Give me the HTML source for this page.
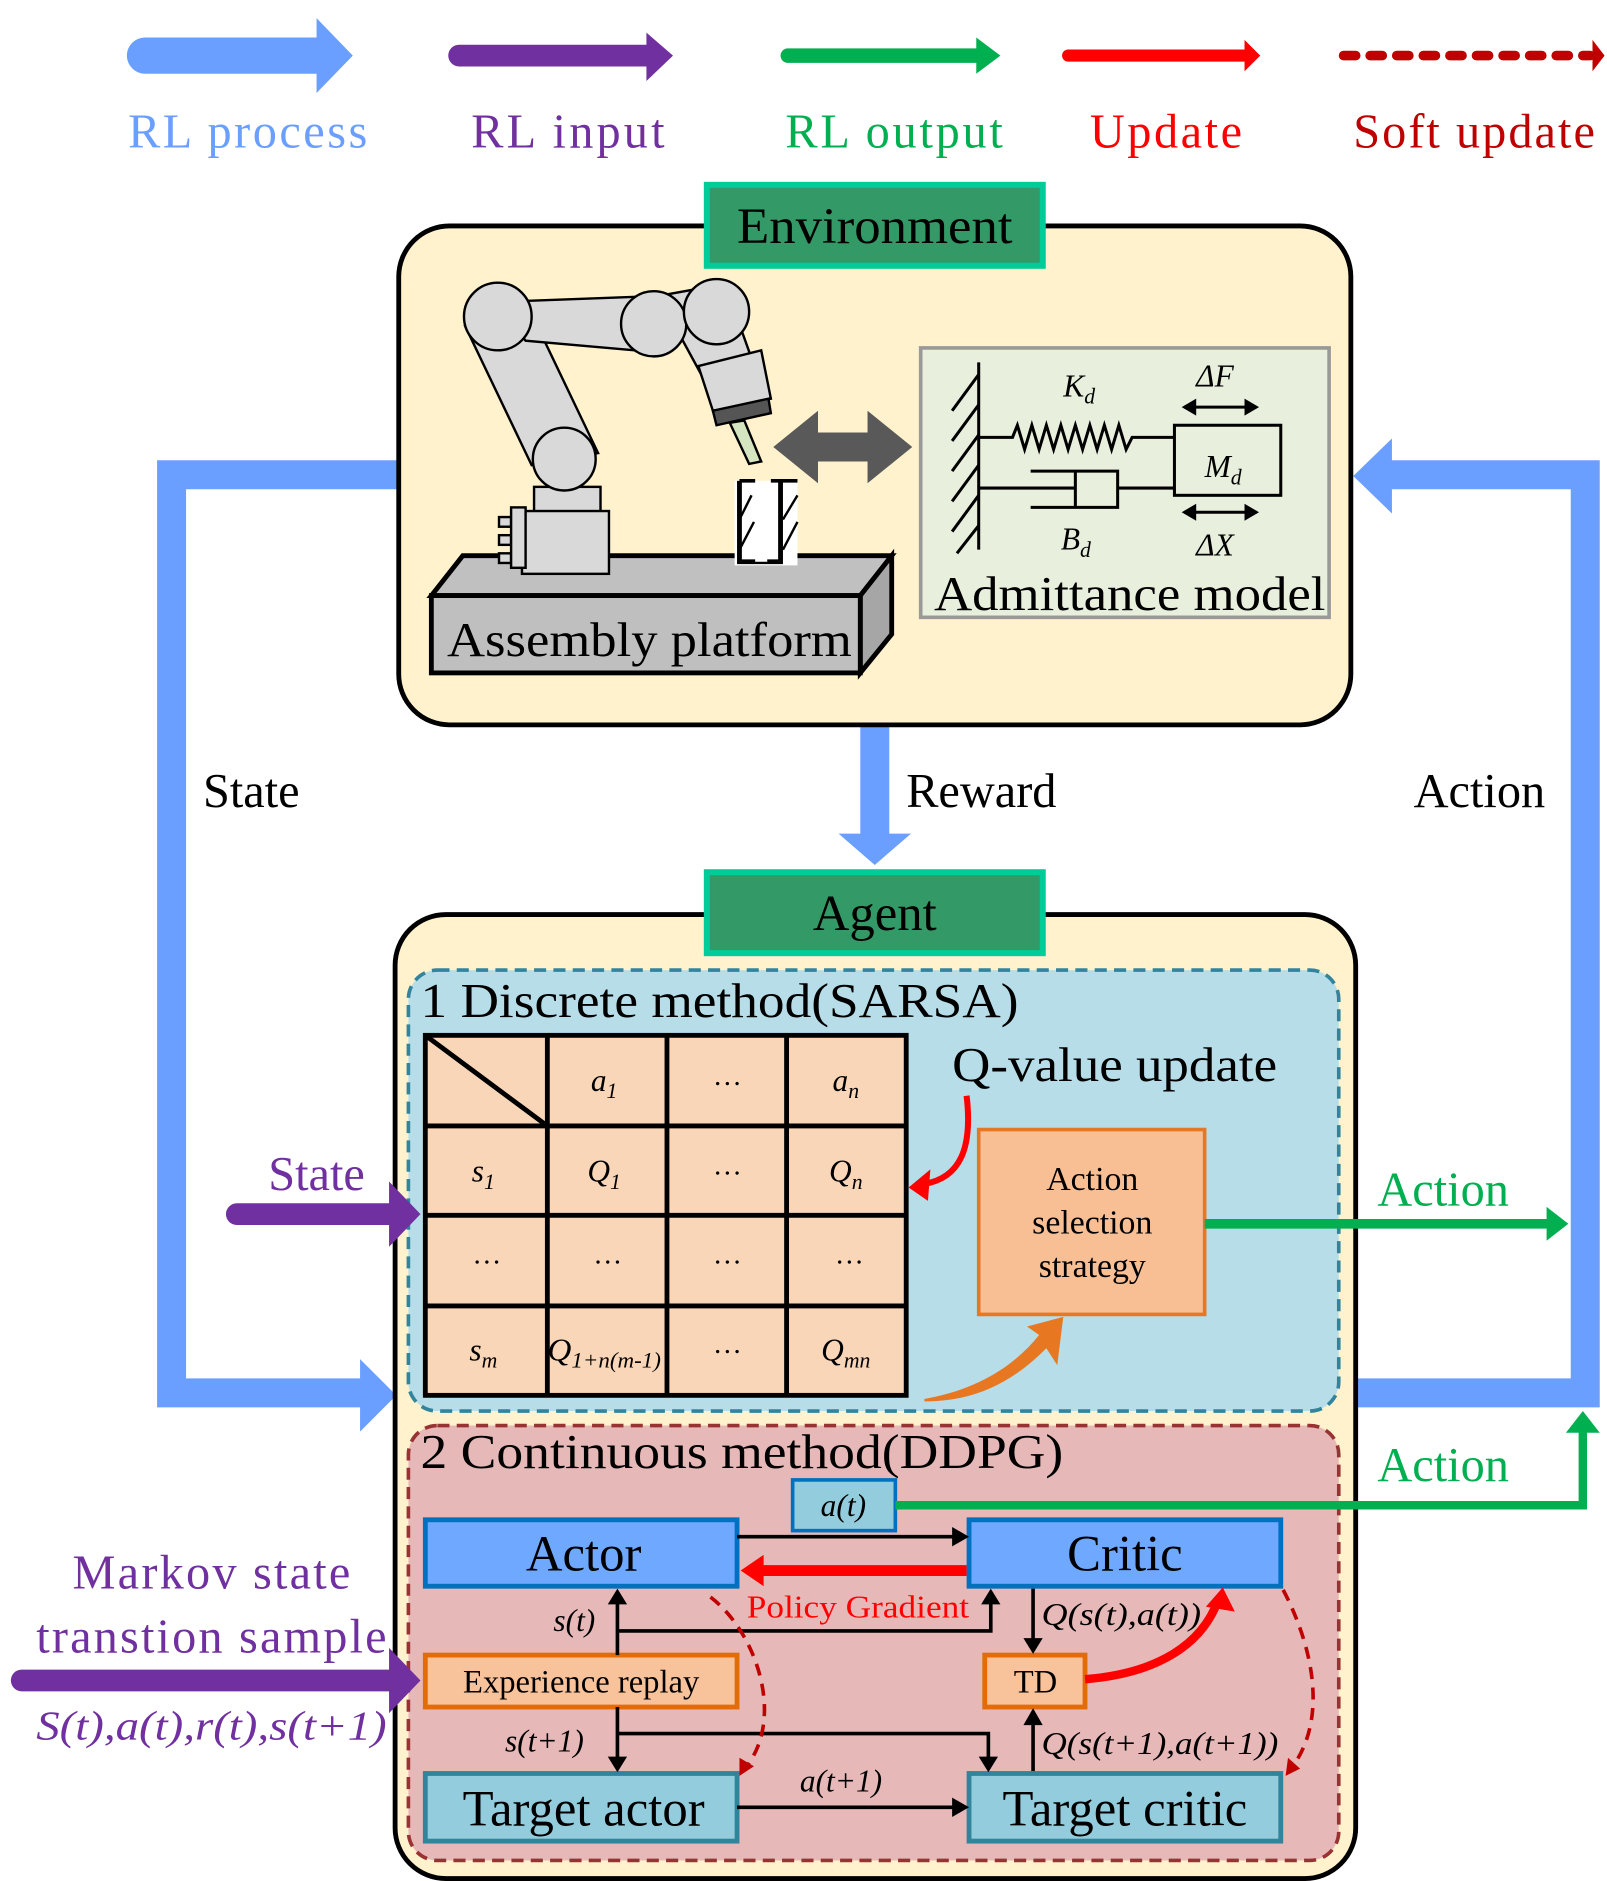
<!DOCTYPE html>
<html><head><meta charset="utf-8"><style>
html,body{margin:0;padding:0;background:#fff;}
svg{display:block;}
text{font-family:"Liberation Serif",serif;}
.i{font-style:italic;}
</style></head><body>
<svg width="1607" height="1881" viewBox="0 0 1330 1557" preserveAspectRatio="none" xmlns="http://www.w3.org/2000/svg">
<!-- Legend -->
<path d="M120,31 L262,31 L262,15 L292,46 L262,77 L262,61 L120,61 A15,15 0 0 1 120,31Z" fill="#6b9fff"/>
<path d="M380,37 L535,37 L535,27 L557,46 L535,67 L535,55 L380,55 A9,9 0 0 1 380,37Z" fill="#7030a0"/>
<path d="M652,40 L808,40 L808,31 L828,46 L808,61 L808,52 L652,52 A6,6 0 0 1 652,40Z" fill="#00b050"/>
<path d="M884,41 L1030,41 L1030,33 L1043,46 L1030,59 L1030,51 L884,51 A5,5 0 0 1 884,41Z" fill="#ff0000"/>
<line x1="1112" y1="46" x2="1316" y2="46" stroke="#c00000" stroke-width="8" stroke-dasharray="10,12" stroke-linecap="round"/>
<path d="M1318,33 L1328,46 L1318,59Z" fill="#c00000"/>
<g font-size="40" text-anchor="middle" lengthAdjust="spacingAndGlyphs">
<text x="205" y="122" fill="#6b9fff" textLength="198">RL process</text>
<text x="470" y="122" fill="#7030a0" textLength="160">RL input</text>
<text x="740" y="122" fill="#00b050" textLength="180">RL output</text>
<text x="965" y="122" fill="#ff0000" textLength="126">Update</text>
<text x="1220" y="122" fill="#c00000" textLength="200">Soft update</text>
</g>

<!-- Blue loop -->
<path d="M330,393 L142,393 L142,1153 L300,1153" fill="none" stroke="#6b9fff" stroke-width="24"/>
<path d="M298,1125 L328,1155 L298,1185Z" fill="#6b9fff"/>
<path d="M1120,1153 L1312,1153 L1312,393 L1150,393" fill="none" stroke="#6b9fff" stroke-width="24"/>
<path d="M1152,363 L1120,394 L1152,425Z" fill="#6b9fff"/>
<rect x="712" y="598" width="24" height="94" fill="#6b9fff"/>
<path d="M694,690 L754,690 L724,716Z" fill="#6b9fff"/>
<g font-size="40" fill="#000">
<text x="168" y="668">State</text>
<text x="750" y="668">Reward</text>
<text x="1170" y="668">Action</text>
</g>

<!-- Environment -->
<rect x="330" y="187" width="788" height="413" rx="42" fill="#fff2cc" stroke="#000" stroke-width="4"/>
<rect x="585" y="153" width="278" height="67" fill="#339966" stroke="#00cc99" stroke-width="5"/>
<text x="724" y="201" font-size="42" text-anchor="middle" textLength="228" lengthAdjust="spacingAndGlyphs">Environment</text>

<!-- Robot -->
<g stroke="#000" stroke-width="2" fill="#d9d9d9">
<path d="M357,493 L383,460 L738,460 L712,493Z" fill="#c0c0c0" stroke-width="4"/>
<path d="M712,493 L738,460 L738,525 L712,557Z" fill="#a6a6a6" stroke-width="4"/>
<rect x="357" y="493" width="355" height="64" fill="#bfbfbf" stroke-width="4"/>
<rect x="442" y="403" width="55" height="22"/>
<rect x="432" y="423" width="72" height="52"/>
<rect x="413" y="428" width="10" height="8"/><rect x="413" y="443" width="10" height="8"/><rect x="413" y="458" width="10" height="8"/>
<rect x="423" y="420" width="12" height="50"/>
<path d="M385,270 L440,260 L495,375 L440,385Z"/>
<circle cx="467" cy="380" r="26"/>
<path d="M410,250 L545,245 L548,292 L435,282Z"/>
<ellipse cx="412" cy="262" rx="28" ry="28"/>
<path d="M545,245 L600,235 L625,305 L582,313Z"/>
<ellipse cx="541" cy="268" rx="27" ry="27"/>
<ellipse cx="593" cy="258" rx="27" ry="27"/>
<path d="M578,303 L630,290 L638,330 L590,340Z"/>
<path d="M590,340 L636,330 L638,342 L593,352Z" fill="#555"/>
<path d="M604,350 L616,348 L630,382 L620,384Z" fill="#d5e5c0"/>
<rect x="608" y="398" width="52" height="70" fill="#fff" stroke="none"/>
<path d="M612,398 L612,465 L646,465 L646,398" fill="none" stroke="#000" stroke-width="4"/>
<path d="M630,398 L630,465" stroke="#fff" stroke-width="10"/>
<path d="M612,398 L625,398 M638,398 L660,398" stroke="#000" stroke-width="3"/>
<path d="M612,430 L622,410 M612,455 L624,432 M648,430 L660,410 M648,455 L660,432" stroke="#000" stroke-width="2"/>
</g>
<text x="370" y="543" font-size="40" textLength="335" lengthAdjust="spacingAndGlyphs">Assembly platform</text>
<path d="M640,370 L677,340 L677,358 L718,358 L718,340 L755,370 L718,400 L718,382 L677,382 L677,400Z" fill="#595959"/>

<!-- Admittance -->
<rect x="762" y="288" width="338" height="223" fill="#e8f0dd" stroke="#999" stroke-width="3"/>
<g stroke="#000" stroke-width="2.5" fill="none">
<line x1="810" y1="300" x2="810" y2="455"/>
<path d="M810,310 L788,340 M810,335 L788,365 M810,360 L788,390 M810,385 L788,415 M810,410 L788,440 M810,435 L792,458"/>
<path d="M810,362 L838,362 L842,352 L848,372 L854,352 L860,372 L866,352 L872,372 L878,352 L884,372 L890,352 L896,372 L902,352 L908,372 L914,352 L920,372 L926,352 L932,372 L937,362 L972,362"/>
<rect x="972" y="352" width="88" height="58"/>
<path d="M810,404 L890,404 M853,390 L925,390 L925,420 L853,420 M890,390 L890,420 M925,404 L972,404"/>
<path d="M980,337 L1040,337 M980,424 L1040,424"/>
</g>
<path d="M978,337 L990,330 L990,344Z M1042,337 L1030,330 L1030,344Z M978,424 L990,417 L990,431Z M1042,424 L1030,417 L1030,431Z" fill="#000"/>
<g font-size="26" class="i">
<text x="880" y="328">K<tspan font-size="18" dy="6">d</tspan></text>
<text x="997" y="395">M<tspan font-size="18" dy="6">d</tspan></text>
<text x="878" y="455">B<tspan font-size="18" dy="6">d</tspan></text>
<text x="990" y="320">ΔF</text>
<text x="990" y="460">ΔX</text>
</g>
<text x="773" y="505" font-size="40" textLength="324" lengthAdjust="spacingAndGlyphs">Admittance model</text>

<!-- Agent -->
<rect x="327" y="757" width="795" height="798" rx="42" fill="#fff2cc" stroke="#000" stroke-width="4"/>
<rect x="585" y="722" width="278" height="67" fill="#339966" stroke="#00cc99" stroke-width="5"/>
<text x="724" y="770" font-size="42" text-anchor="middle">Agent</text>

<!-- Discrete -->
<rect x="338" y="803" width="770" height="365" rx="24" fill="#b7dde8" stroke="#31849b" stroke-width="3" stroke-dasharray="10,6"/>
<text x="348" y="842" font-size="40" textLength="495" lengthAdjust="spacingAndGlyphs">1 Discrete method(SARSA)</text>
<rect x="352" y="857" width="398" height="298" fill="#fad6b8"/>
<g stroke="#000" stroke-width="4" fill="none">
<rect x="352" y="857" width="398" height="298"/>
<path d="M453,857V1155 M552,857V1155 M651,857V1155 M352,932H750 M352,1006H750 M352,1081H750 M352,857 L453,932"/>
</g>
<g font-size="26" text-anchor="middle" class="i">
<text x="500" y="903">a<tspan font-size="18" dy="6">1</tspan></text>
<text x="700" y="903">a<tspan font-size="18" dy="6">n</tspan></text>
<text x="400" y="978">s<tspan font-size="18" dy="6">1</tspan></text>
<text x="500" y="978">Q<tspan font-size="18" dy="6">1</tspan></text>
<text x="700" y="978">Q<tspan font-size="18" dy="6">n</tspan></text>
<text x="400" y="1126">s<tspan font-size="18" dy="6">m</tspan></text>
<text x="500" y="1126" textLength="94" lengthAdjust="spacingAndGlyphs">Q<tspan font-size="18" dy="6">1+n(m-1)</tspan></text>
<text x="700" y="1126">Q<tspan font-size="18" dy="6">mn</tspan></text>
</g>
<g font-size="24" text-anchor="middle">
<text x="602" y="898">…</text><text x="602" y="972">…</text><text x="602" y="1046">…</text><text x="602" y="1120">…</text>
<text x="403" y="1046">…</text><text x="503" y="1046">…</text><text x="703" y="1046">…</text>
</g>
<text x="788" y="895" font-size="40" textLength="269" lengthAdjust="spacingAndGlyphs">Q-value update</text>
<path d="M800,907 C805,950 795,975 765,980" fill="none" stroke="#f00" stroke-width="5"/>
<path d="M752,983 L770,968 L768,994Z" fill="#f00"/>
<rect x="810" y="935" width="187" height="153" fill="#f8bf95" stroke="#e87722" stroke-width="3"/>
<g font-size="28" text-anchor="middle"><text x="904" y="985">Action</text><text x="904" y="1021">selection</text><text x="904" y="1057">strategy</text></g>
<path d="M997,1013 L1282,1013" stroke="#00b050" stroke-width="8"/>
<path d="M1280,999 L1298,1013 L1280,1027Z" fill="#00b050"/>
<text x="1140" y="998" font-size="40" fill="#00b050">Action</text>
<path d="M765,1158 C810,1150 840,1130 860,1105 L850,1098 L880,1090 L875,1130 L866,1116 C840,1142 810,1160 765,1160Z" fill="#e87722"/>
<text x="222" y="985" font-size="40" fill="#7030a0">State</text>
<path d="M196,996 L322,996 L322,978 L348,1005 L322,1032 L322,1014 L196,1014 A9,9 0 0 1 196,996Z" fill="#7030a0"/>

<!-- Continuous -->
<rect x="338" y="1180" width="770" height="360" rx="24" fill="#e6b9b8" stroke="#993333" stroke-width="3" stroke-dasharray="10,6"/>
<text x="348" y="1215" font-size="40" textLength="532" lengthAdjust="spacingAndGlyphs">2 Continuous method(DDPG)</text>
<rect x="656" y="1225" width="85" height="42" fill="#93cddd" stroke="#0070c0" stroke-width="3"/>
<text x="698" y="1255" font-size="26" text-anchor="middle" class="i">a(t)</text>
<path d="M741,1246 L1310,1246 L1310,1182" fill="none" stroke="#00b050" stroke-width="7"/>
<path d="M1296,1186 L1310,1168 L1324,1186Z" fill="#00b050"/>
<text x="1140" y="1226" font-size="40" fill="#00b050">Action</text>
<g stroke-width="4">
<rect x="352" y="1258" width="258" height="55" fill="#6fa8ff" stroke="#0070c0"/>
<rect x="802" y="1258" width="258" height="55" fill="#6fa8ff" stroke="#0070c0"/>
<rect x="352" y="1370" width="258" height="43" fill="#f8c39b" stroke="#e36c09"/>
<rect x="815" y="1370" width="83" height="43" fill="#f8c39b" stroke="#e36c09"/>
<rect x="352" y="1468" width="258" height="56" fill="#93cddd" stroke="#31849b"/>
<rect x="802" y="1468" width="258" height="56" fill="#93cddd" stroke="#31849b"/>
</g>
<g font-size="42" text-anchor="middle">
<text x="483" y="1300">Actor</text><text x="931" y="1300">Critic</text>
<text x="483" y="1511">Target actor</text><text x="931" y="1511">Target critic</text>
</g>
<text x="481" y="1401" font-size="27" text-anchor="middle">Experience replay</text>
<text x="857" y="1401" font-size="27" text-anchor="middle">TD</text>
<g stroke="#000" stroke-width="3" fill="none">
<path d="M610,1272 L790,1272"/>
<path d="M511,1370 L511,1325 M511,1350 L820,1350 L820,1326"/>
<path d="M855,1315 L855,1358"/>
<path d="M511,1413 L511,1456 M511,1435 L818,1435 L818,1456"/>
<path d="M855,1466 L855,1426"/>
<path d="M610,1496 L790,1496"/>
</g>
<g fill="#000">
<path d="M788,1264 L802,1272 L788,1280Z"/>
<path d="M503,1328 L511,1315 L519,1328Z M812,1328 L820,1315 L828,1328Z"/>
<path d="M847,1356 L855,1369 L863,1356Z"/>
<path d="M503,1454 L511,1467 L519,1454Z M810,1454 L818,1467 L826,1454Z"/>
<path d="M847,1428 L855,1414 L863,1428Z"/>
<path d="M788,1488 L802,1496 L788,1504Z"/>
</g>
<path d="M800,1300 L628,1300" stroke="#f00" stroke-width="9"/>
<path d="M632,1287 L613,1300 L632,1313Z" fill="#f00"/>
<text x="618" y="1339" font-size="26" fill="#f00" textLength="184" lengthAdjust="spacingAndGlyphs">Policy Gradient</text>
<path d="M898,1390 C960,1385 995,1360 1008,1325" fill="none" stroke="#f00" stroke-width="7"/>
<path d="M998,1330 L1012,1314 L1022,1334Z" fill="#f00"/>
<g fill="none" stroke="#c00000" stroke-width="3" stroke-dasharray="10,7">
<path d="M588,1322 C625,1350 650,1420 618,1462"/>
<path d="M1062,1316 C1085,1360 1100,1420 1070,1462"/>
</g>
<path d="M612,1470 L612,1455 L624,1462Z M1064,1470 L1066,1455 L1076,1464Z" fill="#c00000"/>
<g font-size="26" class="i">
<text x="458" y="1350">s(t)</text>
<text x="418" y="1450">s(t+1)</text>
<text x="862" y="1345" textLength="132" lengthAdjust="spacingAndGlyphs">Q(s(t),a(t))</text>
<text x="862" y="1452" textLength="196" lengthAdjust="spacingAndGlyphs">Q(s(t+1),a(t+1))</text>
<text x="662" y="1483">a(t+1)</text>
</g>
<g font-size="40" fill="#7030a0" text-anchor="middle" lengthAdjust="spacingAndGlyphs">
<text x="175" y="1315" textLength="230">Markov state</text>
<text x="175" y="1368" textLength="290">transtion sample</text>
</g>
<path d="M18,1382 L322,1382 L322,1364 L348,1391 L322,1418 L322,1400 L18,1400 A9,9 0 0 1 18,1382Z" fill="#7030a0"/>
<text x="30" y="1440" font-size="34" fill="#7030a0" class="i" textLength="290" lengthAdjust="spacingAndGlyphs">S(t),a(t),r(t),s(t+1)</text>
</svg>
</body></html>
